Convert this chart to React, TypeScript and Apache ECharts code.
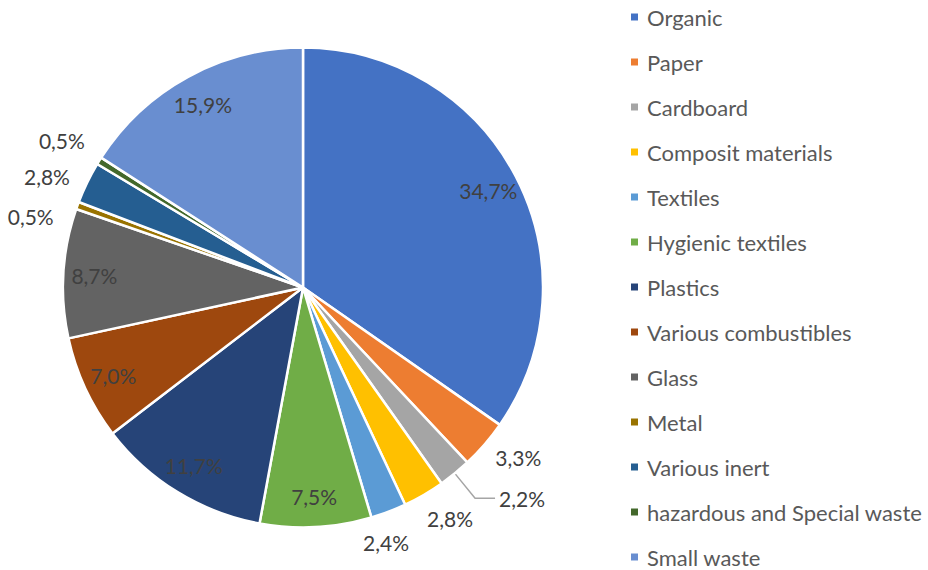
import React, { useEffect, useRef } from "react";
import * as echarts from "echarts";

const categories = [
  "Organic",
  "Paper",
  "Cardboard",
  "Composit materials",
  "Textiles",
  "Hygienic textiles",
  "Plastics",
  "Various combustibles",
  "Glass",
  "Metal",
  "Various inert",
  "hazardous and Special waste",
  "Small waste",
];
const values = [34.7, 3.3, 2.2, 2.8, 2.4, 7.5, 11.7, 7.0, 8.7, 0.5, 2.8, 0.5, 15.9];
const colors = [
  "#4472C4",
  "#ED7D31",
  "#A5A5A5",
  "#FFC000",
  "#5B9BD5",
  "#70AD47",
  "#264478",
  "#9E480E",
  "#636363",
  "#997300",
  "#255E91",
  "#43682B",
  "#698ED0",
];
// label placement per slice: "in" = inside, "out" = just outside, "line" = outside with leader line
const labelPlacement = ["in", "out", "line", "out", "out", "in", "in", "in", "in", "out", "out", "out", "in"];

const FONT = "Lato, 'Open Sans', sans-serif";
const fmt = (v: number) => v.toFixed(1).replace(".", ",") + "%";
const CENTER = [303, 287.5];
const R = 240;

// small nudges of outside labels (to avoid crowding, like the original's best-fit layout)
const LABEL_NUDGE: Record<number, [number, number]> = {
  1: [5, -12],
  3: [7, -9],
  4: [-16, -5],
  9: [-11, 24],
  10: [-6, 11],
  11: [-5, 0],
};

export default function App() {
  const ref = useRef<HTMLDivElement>(null);
  useEffect(() => {
    if (!ref.current) return;
    const chart = echarts.init(ref.current, undefined, { renderer: "svg" });
    const labelBase = {
      fontFamily: FONT,
      fontSize: 21,
      color: "#404040",
      formatter: (p: any) => fmt(p.value),
    };
    const mainData = categories.map((name, i) => ({
      name,
      value: values[i],
      itemStyle: { color: colors[i] },
      label:
        labelPlacement[i] === "line"
          ? { show: true, position: "outside", ...labelBase, distanceToLabelLine: 4 }
          : { show: false },
      labelLine:
        labelPlacement[i] === "line"
          ? { show: true, length: 32, length2: 20, lineStyle: { color: "#A5A5A5", width: 1.5 } }
          : { show: false },
    }));
    const overlayData = (kind: string) =>
      categories.map((name, i) => ({
        name,
        value: values[i],
        itemStyle: { color: "rgba(0,0,0,0)", borderWidth: 0 },
        label: labelPlacement[i] === kind ? { show: true, position: "inside", ...labelBase } : { show: false },
        labelLine: { show: false },
      }));
    chart.setOption({
      animation: false,
      backgroundColor: "#ffffff",
      legend: {
        orient: "vertical",
        left: 629,
        top: 6,
        padding: 0,
        data: categories,
        icon: "rect",
        itemWidth: 9,
        itemHeight: 9,
        itemGap: 23,
        selectedMode: false,
        textStyle: {
          fontFamily: FONT,
          fontSize: 22,
          lineHeight: 22,
          color: "#595959",
          padding: [0, 0, 0, 3],
        },
      },
      series: [
        {
          type: "pie",
          name: "main",
          center: CENTER,
          radius: R,
          startAngle: 90,
          clockwise: true,
          avoidLabelOverlap: false,
          silent: true,
          itemStyle: { borderColor: "#ffffff", borderWidth: 2.5 },
          emphasis: { disabled: true },
          data: mainData,
        },
        {
          type: "pie",
          name: "inLabels",
          center: CENTER,
          radius: [172, R],
          startAngle: 90,
          clockwise: true,
          avoidLabelOverlap: false,
          silent: true,
          legendHoverLink: false,
          emphasis: { disabled: true },
          data: overlayData("in"),
        },
        {
          type: "pie",
          name: "outLabels",
          center: CENTER,
          radius: [R, 310],
          startAngle: 90,
          clockwise: true,
          avoidLabelOverlap: false,
          silent: true,
          legendHoverLink: false,
          emphasis: { disabled: true },
          labelLayout: (p: any) => {
            const n = LABEL_NUDGE[p.dataIndex];
            return n ? { dx: n[0], dy: n[1] } : {};
          },
          data: overlayData("out"),
        },
      ],
    });
    return () => chart.dispose();
  }, []);
  return (
    <div
      ref={ref}
      style={{ position: "fixed", left: 0, top: 0, width: 928, height: 570 }}
    />
  );
}
